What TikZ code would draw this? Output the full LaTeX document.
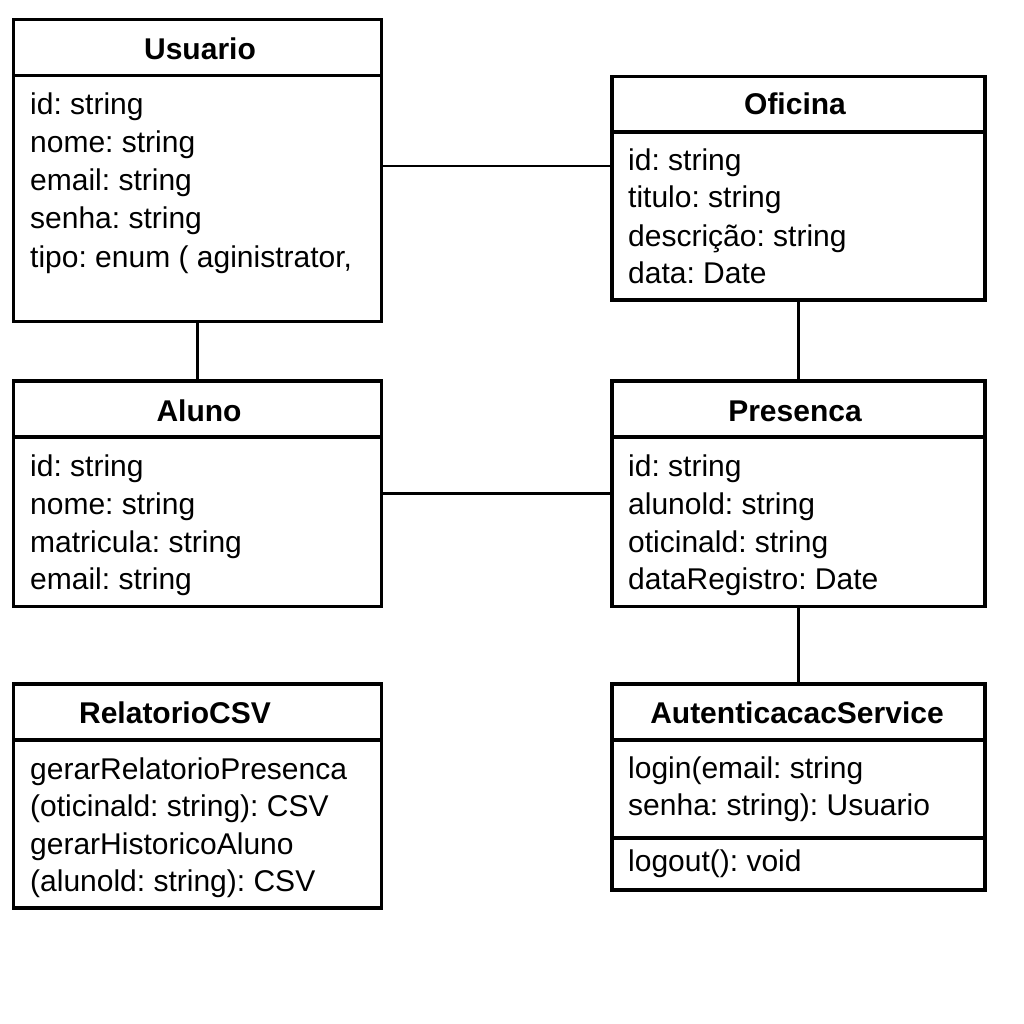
\documentclass[tikz,border=0pt]{standalone}
\usepackage{fontspec}
\setmainfont{Liberation Sans}
\frenchspacing
\begin{document}
\begin{tikzpicture}[x=1pt,y=-1pt,
  cls/.style={draw, line width=3.1pt, inner sep=0pt, outer sep=0pt, anchor=north west},
  divline/.style={line width=3.1pt},
  conn/.style={line width=2.9pt},
  ttl/.style={font=\bfseries\fontsize{30}{36}\selectfont, anchor=base, inner sep=0pt},
  txt/.style={font=\fontsize{30}{36}\selectfont, anchor=base west, inner sep=0pt}]
\useasboundingbox[fill=white] (0,0) rectangle (1024,1024);

% class boxes
\node[cls, minimum width=368pt, minimum height=302pt] (usuario) at (13.5,19.5) {};
\node[cls, minimum width=373pt, minimum height=223.5pt] (oficina) at (612,76.5) {};
\node[cls, minimum width=368pt, minimum height=225.5pt] (aluno) at (13.5,381) {};
\node[cls, minimum width=373pt, minimum height=225.5pt] (presenca) at (612,381) {};
\node[cls, minimum width=368pt, minimum height=224pt] (relatorio) at (13.5,684) {};
\node[cls, minimum width=373pt, minimum height=206pt] (autent) at (612,684) {};

% compartment dividers
\draw[divline] ([yshift=-56pt]usuario.north west) -- ([yshift=-56pt]usuario.north east);
\draw[divline] ([yshift=-55.5pt]oficina.north west) -- ([yshift=-55.5pt]oficina.north east);
\draw[divline] ([yshift=-56pt]aluno.north west) -- ([yshift=-56pt]aluno.north east);
\draw[divline] ([yshift=-56pt]presenca.north west) -- ([yshift=-56pt]presenca.north east);
\draw[divline] ([yshift=-56pt]relatorio.north west) -- ([yshift=-56pt]relatorio.north east);
\draw[divline] ([yshift=-56pt]autent.north west) -- ([yshift=-56pt]autent.north east);
\draw[divline] ([yshift=-154pt]autent.north west) -- ([yshift=-154pt]autent.north east);

% connectors
\draw[conn] (usuario.east |- {(0,166)}) -- (oficina.west |- {(0,166)});
\draw[conn] (usuario.south) -- (aluno.north);
\draw[conn] (oficina.south) -- (presenca.north);
\draw[conn] (aluno.east) -- (presenca.west);
\draw[conn] (presenca.south) -- (autent.north);

% Usuario
\node[ttl] (ut) at (200,60) {Usuario};
\node[txt] (u1) at (30,115) {id: string};
\node[txt] (u2) at (30,153) {nome: string};
\node[txt] (u3) at (30,191) {email: string};
\node[txt] (u4) at (30,229) {senha: string};
\node[txt] (u5) at (30,267) {tipo: enum ( aginistrator,};

% Oficina
\node[ttl] (ot) at (795,115) {Oficina};
\node[txt] (o1) at (628,171) {id: string};
\node[txt] (o2) at (628,208) {titulo: string};
\node[txt] (o3) at (628,246) {descrição: string};
\node[txt] (o4) at (628,283) {data: Date};

% Aluno
\node[ttl] (at) at (199,421) {Aluno};
\node[txt] (a1) at (30,476) {id: string};
\node[txt] (a2) at (30,514) {nome: string};
\node[txt] (a3) at (30,552) {matricula: string};
\node[txt] (a4) at (30,589) {email: string};

% Presenca
\node[ttl] (pt) at (795,421) {Presenca};
\node[txt] (p1) at (628,476) {id: string};
\node[txt] (p2) at (628,514) {alunold: string};
\node[txt] (p3) at (628,552) {oticinald: string};
\node[txt] (p4) at (628,589) {dataRegistro: Date};

% RelatorioCSV
\node[ttl] (rt) at (175,723) {RelatorioCSV};
\node[txt] (r1) at (30,779) {gerarRelatorioPresenca};
\node[txt] (r2) at (30,816) {(oticinald: string): CSV};
\node[txt] (r3) at (30,854) {gerarHistoricoAluno};
\node[txt] (r4) at (30,891) {(alunold: string): CSV};

% AutenticacacService
\node[ttl] (st) at (797,723) {AutenticacacService};
\node[txt] (s1) at (628,778) {login(email: string};
\node[txt] (s2) at (628,815) {senha: string): Usuario};
\node[txt] (s3) at (628,871) {logout(): void};
\end{tikzpicture}
\end{document}
